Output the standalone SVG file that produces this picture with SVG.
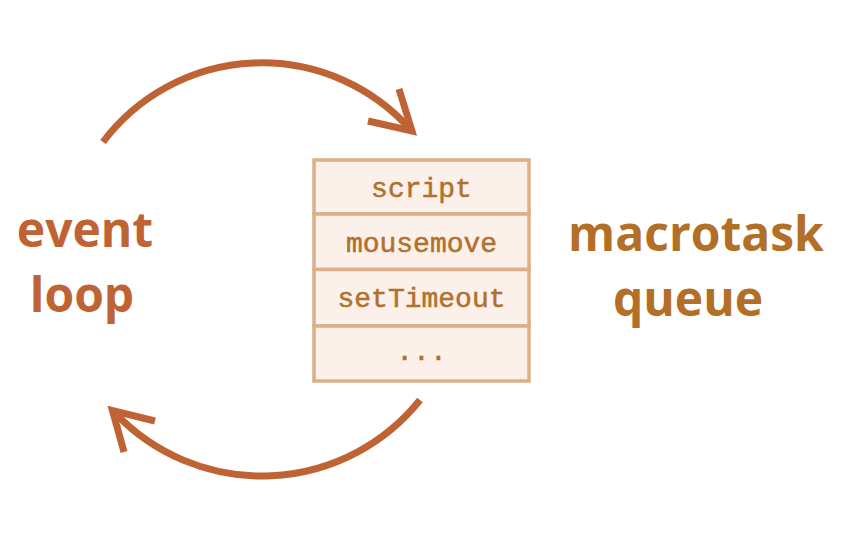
<svg xmlns="http://www.w3.org/2000/svg" width="860" height="538" viewBox="0 0 860 538">
<style>
.arc{fill:none;stroke:#c06334;stroke-width:7;stroke-linejoin:miter;stroke-miterlimit:10}
.cell{fill:#fbf1ea;stroke:#dcaf87;stroke-width:3.5}
.mono{font-family:"Liberation Mono","DejaVu Sans Mono",monospace;font-size:28px;fill:#b1702c;stroke:#b1702c;stroke-width:0.5;text-anchor:middle}
.big{font-family:"Open Sans","Noto Sans",sans-serif;font-weight:bold;font-size:48px;text-anchor:middle}
</style>
<rect width="860" height="538" fill="#ffffff"/>
<g id="connectors">
<path class="arc" d="M103,142 A199,199 0 0 1 410,129"/>
<polyline class="arc" points="399,89 412,131 368,121"/>
<path class="arc" d="M420,400 A202.5,202.5 0 0 1 116,414"/>
<polyline class="arc" points="155,421 112.5,410.5 124,452"/>
</g>
<g id="queue">
<rect class="cell" x="314" y="160" width="215" height="54"/>
<rect class="cell" x="314" y="214" width="215" height="55.5"/>
<rect class="cell" x="314" y="269.5" width="215" height="56.5"/>
<rect class="cell" x="314" y="326" width="215" height="55"/>
<text class="mono" x="421.5" y="197">script</text>
<text class="mono" x="421.5" y="252">mousemove</text>
<text class="mono" x="421.5" y="307">setTimeout</text>
<text class="mono" x="421.5" y="360">...</text>
</g>
<g id="event-loop">
<text class="big" x="85" y="247" fill="#c06334">event</text>
<text class="big" x="82" y="312" fill="#c06334">loop</text>
</g>
<g id="macrotask-queue">
<text class="big" x="696" y="251" fill="#b36f26">macrotask</text>
<text class="big" x="688" y="316" fill="#b36f26">queue</text>
</g>
</svg>
